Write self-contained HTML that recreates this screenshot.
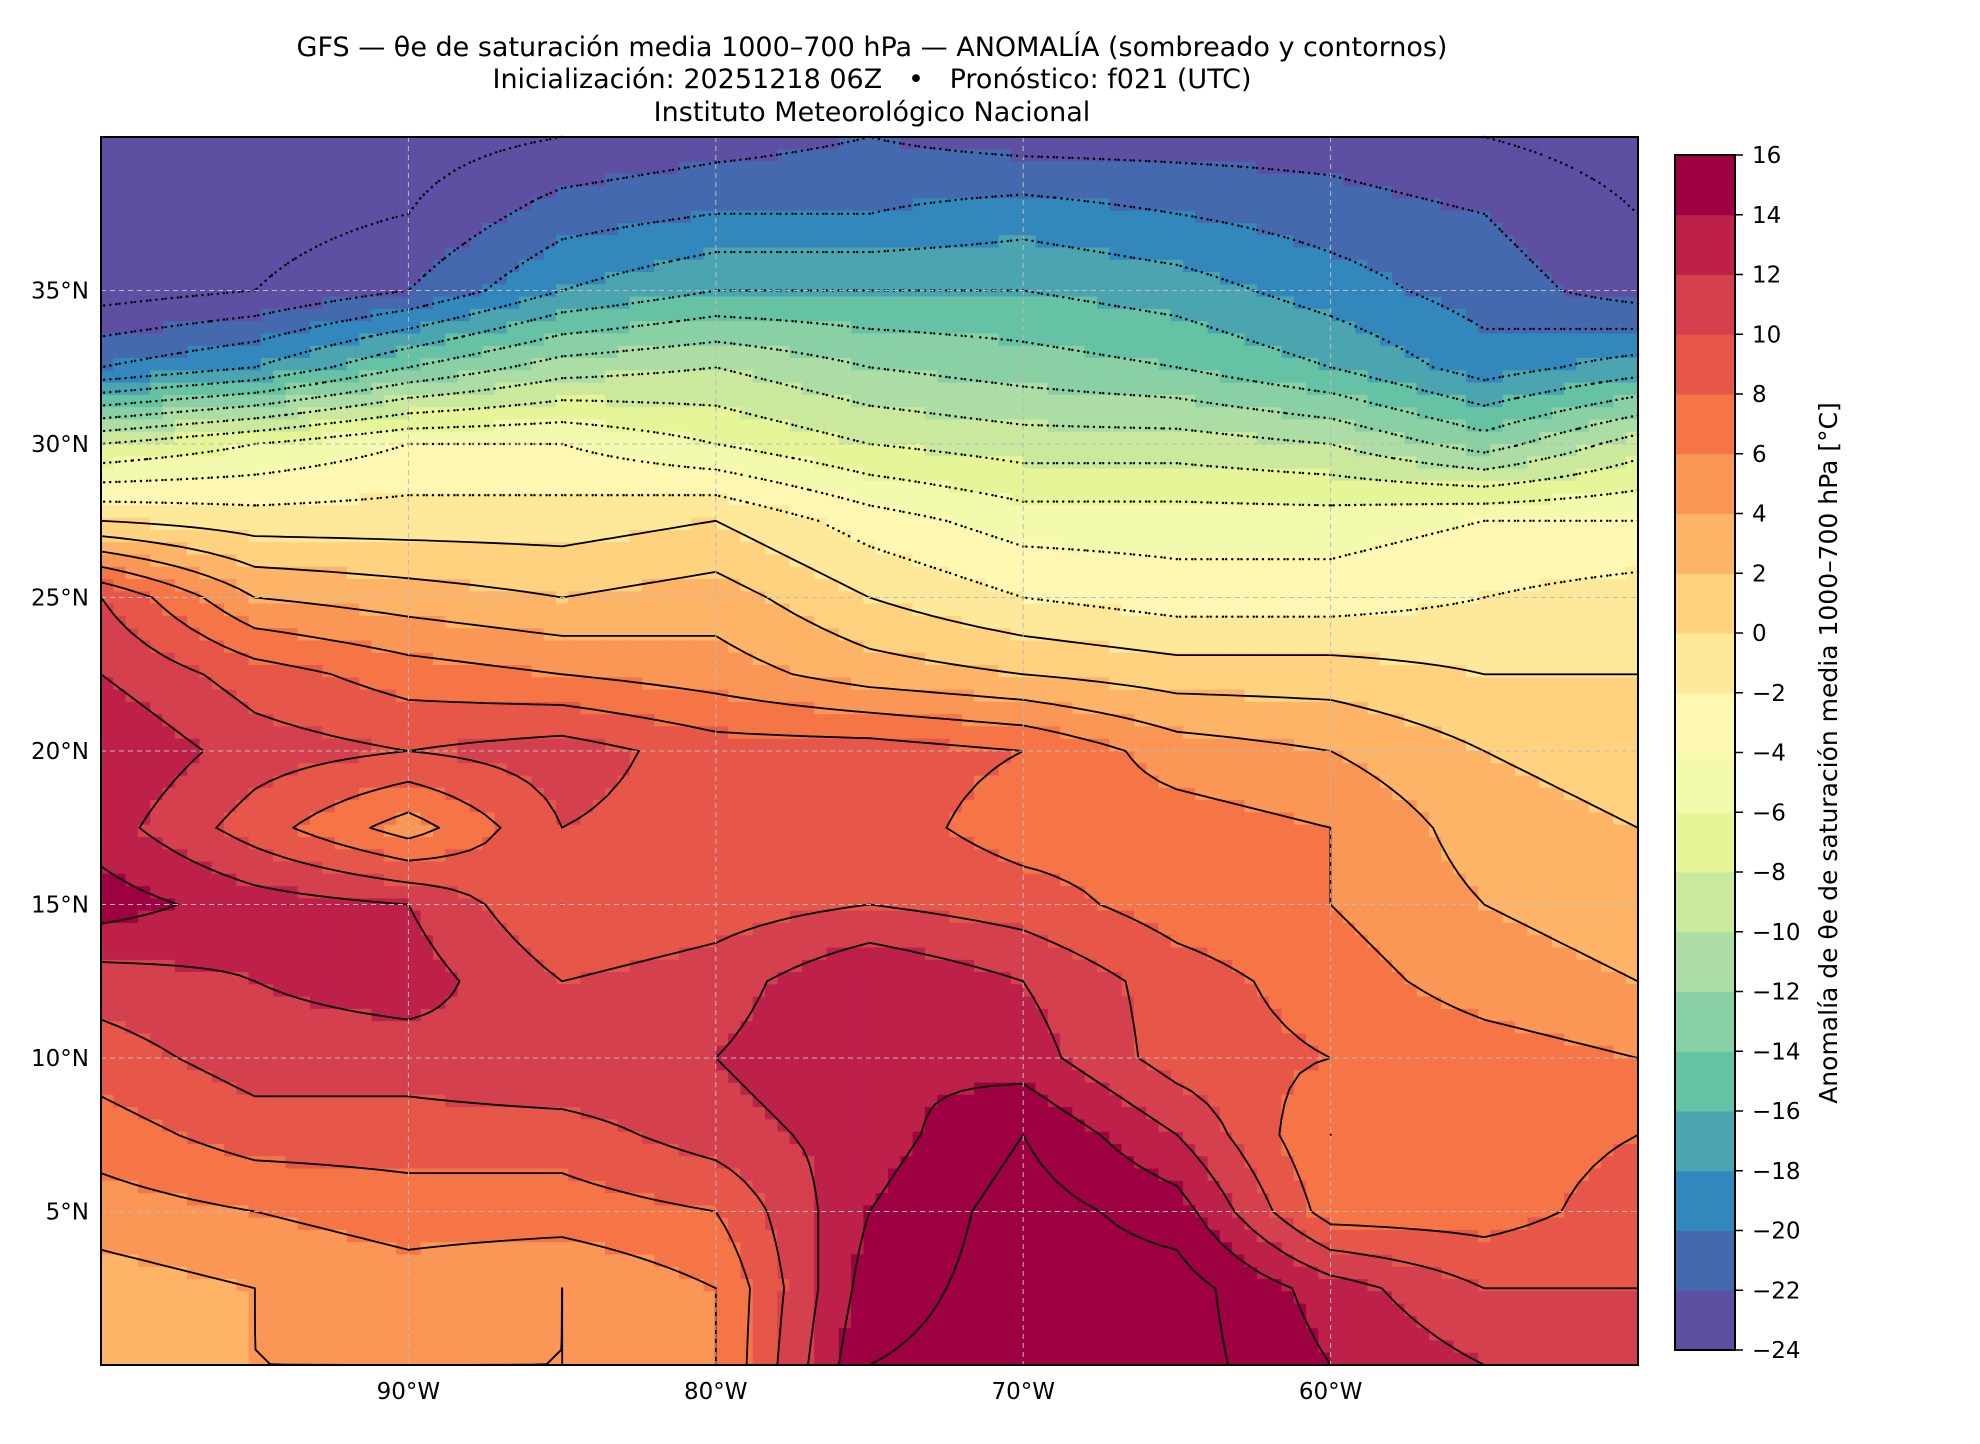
<!DOCTYPE html>
<html><head><meta charset="utf-8">
<style>
html,body{margin:0;padding:0;background:#fff;}
body{width:1980px;height:1440px;overflow:hidden;font-family:"DejaVu Sans","Liberation Sans",sans-serif;}
</style></head>
<body>
<svg id="fig" width="1980" height="1440" viewBox="0 0 1980 1440" xmlns="http://www.w3.org/2000/svg" font-family="DejaVu Sans, Liberation Sans, sans-serif">
  <g text-anchor="middle" font-size="27" fill="#000">
    <text x="872" y="56">GFS — θe de saturación media 1000–700 hPa — ANOMALÍA (sombreado y contornos)</text>
    <text x="872" y="88" xml:space="preserve">Inicialización: 20251218 06Z   •   Pronóstico: f021 (UTC)</text>
    <text x="872" y="121">Instituto Meteorológico Nacional</text>
  </g>
  <g id="field"></g>
  <g id="contours"></g>
  <g id="grid"></g>
  <rect x="101" y="137" width="1537" height="1228" fill="none" stroke="#000" stroke-width="2"/>
  <g id="xticks"></g>
  <g id="yticks"></g>
  <g id="cbar"></g>
  <text transform="translate(1837,753) rotate(-90)" text-anchor="middle" font-size="25">Anomalía de θe de saturación media 1000–700 hPa [°C]</text>
</svg>
<script>
// ---- data ----
const lonValues = [-100,-95,-90,-85,-80,-75,-70,-65,-60,-55,-50];
const latValues = [40,37.5,35,32.5,30,27.5,25,22.5,20,17.5,15,12.5,10,7.5,5,2.5,0];
const row40   = [-25,-25,-25,-24,-23,-22,-23,-23,-23,-24,-25];
const row37_5 = [-25,-25,-24,-21,-20,-20,-19,-20,-21,-22,-24];
const row35   = [-25,-24,-22,-18,-16,-16,-16,-17,-19,-21,-23];
const row32_5 = [-20,-18,-14,-11,-10,-12,-13,-14,-16,-19,-17];
const row30   = [-8,-6,-4,-4,-6,-8,-9,-9,-10,-13,-9];
const row27_5 = [0,-1,-1,-1,0,-3,-5,-5,-5,-4,-4];
const row25   = [10,4,3,2,3,0,-2,-3,-3,-2,-1];
const row22_5 = [12,9,7,6,5,3,2,1,1,0,0];
const row20   = [14,11,10,11,9,9,8,5,4,2,1];
const row17_5 = [13,9,5,10,9,9,7,7,6,3,2];
const row15   = [15,13,12,8,9,10,9,7,6,4,3];
const row12_5 = [11,12,13,10,11,14,12,9,7,5,4];
const row10   = [9,11,11,12,12,14,13,9,8,7,6];
const row7_5  = [7,9,9,9,11,13,16,12,6,7,8];
const row5    = [5,6,7,7,8,14,17,15,7,7,9];
const row2_5  = [3,4,5,4,6,15,17,17,13,10,10];
const row0    = [2,4,4,4,6,16,17,17,14,12,12];
const gridRows = [row40,row37_5,row35,row32_5,row30,row27_5,row25,row22_5,row20,row17_5,row15,row12_5,row10,row7_5,row5,row2_5,row0];
const levelTicks = [16,14,12,10,8,6,4,2,0,-2,-4,-6,-8,-10,-12,-14,-16,-18,-20,-22,-24];
const levelColors = ["#5e4fa2","#4469ae","#3288bd","#4ba5b1","#66c2a5","#89d0a5","#abdda4","#cbe99d","#e6f598","#f4faad","#fff7b2","#fee899","#fed27f","#fdb466","#fa9656","#f57547","#e65749","#d5404e","#bd214a","#9e0142"];
const xTickLons = [-90,-80,-70,-60];
const xTickLabels = ["90°W","80°W","70°W","60°W"];
const yTickLats = [35,30,25,20,15,10,5];
const yTickLabels = ["35°N","30°N","25°N","20°N","15°N","10°N","5°N"];

// ---- axes ----
const PL=101, PR=1638, PT=137, PB=1365;
const lonMin=-100, lonMax=-50, latMin=0, latMax=40;
const xScale = lon => PL + (lon-lonMin)/(lonMax-lonMin)*(PR-PL);
const yScale = lat => PB - (lat-latMin)/(latMax-latMin)*(PB-PT);
const CT=155, CB=1350, vMin=-24, vMax=16;
const cScale = v => CB - (v-vMin)/(vMax-vMin)*(CB-CT);
const NS="http://www.w3.org/2000/svg";
function mk(tag, attrs, parent){const e=document.createElementNS(NS,tag);for(const k in attrs)e.setAttribute(k,attrs[k]);parent.appendChild(e);return e;}
function colorFor(v){let i=Math.floor((v-vMin)/2);if(i<0)i=0;if(i>19)i=19;return levelColors[i];}
function sample(lon,lat){
  const fx=(lon-lonValues[0])/5, fy=(latValues[0]-lat)/2.5;
  let i=Math.min(Math.max(Math.floor(fx),0),lonValues.length-2);
  let j=Math.min(Math.max(Math.floor(fy),0),latValues.length-2);
  const tx=fx-i, ty=fy-j;
  const a=gridRows[j][i],b=gridRows[j][i+1],c=gridRows[j+1][i],d=gridRows[j+1][i+1];
  return (a*(1-tx)+b*tx)*(1-ty)+(c*(1-tx)+d*tx)*ty;
}
// field cells
const field=document.getElementById('field');
const step=0.4;
for(let lat=latMax; lat>latMin+1e-6; lat-=step){
  for(let lon=lonMin; lon<lonMax-1e-6; lon+=step){
    const v=sample(lon+step/2, lat-step/2);
    const x0=xScale(lon), x1=xScale(Math.min(lon+step,lonMax));
    const y0=yScale(lat), y1=yScale(Math.max(lat-step,latMin));
    const r=mk('rect',{x:x0.toFixed(1),y:y0.toFixed(1),width:(x1-x0+0.6).toFixed(1),height:(y1-y0+0.6).toFixed(1),fill:colorFor(v)},field);
    
    
  }
}
// contours (marching squares on sampled field)
const cg=document.getElementById('contours');
const cs=0.5;
const nx=Math.round((lonMax-lonMin)/cs), ny=Math.round((latMax-latMin)/cs);
const S=[];
for(let j=0;j<=ny;j++){S.push([]);for(let i=0;i<=nx;i++){S[j].push(sample(lonMin+i*cs, latMax-j*cs));}}
for(let L0=-24; L0<=16; L0+=2){
  const L=L0+0.001;
  let d='';
  for(let j=0;j<ny;j++)for(let i=0;i<nx;i++){
    const a=S[j][i],b=S[j][i+1],c=S[j+1][i+1],e=S[j+1][i];
    const pts=[];
    const lon0=lonMin+i*cs, lat0=latMax-j*cs;
    function cross(v1,v2,p1,p2){ if((v1<L)!==(v2<L)){const t=(L-v1)/(v2-v1);pts.push([p1[0]+(p2[0]-p1[0])*t,p1[1]+(p2[1]-p1[1])*t]);} }
    cross(a,b,[lon0,lat0],[lon0+cs,lat0]);
    cross(b,c,[lon0+cs,lat0],[lon0+cs,lat0-cs]);
    cross(c,e,[lon0+cs,lat0-cs],[lon0,lat0-cs]);
    cross(e,a,[lon0,lat0-cs],[lon0,lat0]);
    for(let k=0;k+1<pts.length;k+=2){
      d+='M'+xScale(pts[k][0]).toFixed(1)+' '+yScale(pts[k][1]).toFixed(1)+'L'+xScale(pts[k+1][0]).toFixed(1)+' '+yScale(pts[k+1][1]).toFixed(1);
    }
  }
  if(!d) continue;
  const p=mk('path',{d:d,fill:'none',stroke:'#000','stroke-width':L0<0?2.4:1.8,'stroke-linecap':'round'},cg);
  if(L0<0){p.setAttribute('stroke-dasharray','0.1,6');}
  
  
}
// gridlines
const grid=document.getElementById('grid');
xTickLons.forEach(lon=>{const l=mk('line',{x1:xScale(lon),x2:xScale(lon),y1:PT,y2:PB,stroke:'#bbb','stroke-width':1,'stroke-dasharray':'5,4'},grid);
  
  });
yTickLats.forEach(lat=>{const l=mk('line',{x1:PL,x2:PR,y1:yScale(lat),y2:yScale(lat),stroke:'#bbb','stroke-width':1,'stroke-dasharray':'5,4'},grid);
  
  });
// tick labels
const xt=document.getElementById('xticks');
xTickLons.forEach((lon,k)=>{const t=mk('text',{x:xScale(lon),y:1399,'text-anchor':'middle','font-size':23},xt);t.textContent=xTickLabels[k];
  
  });
const yt=document.getElementById('yticks');
yTickLats.forEach((lat,k)=>{const t=mk('text',{x:89,y:yScale(lat)+8,'text-anchor':'end','font-size':23},yt);t.textContent=yTickLabels[k];
  
  });
// colorbar
const cb=document.getElementById('cbar');
levelColors.forEach((c,i)=>{const lo=vMin+2*i;const r=mk('rect',{x:1675,y:cScale(lo+2),width:60,height:cScale(lo)-cScale(lo+2)+0.5,fill:c},cb);
  
  });
const fr=mk('rect',{x:1675,y:CT,width:60,height:CB-CT,fill:'none',stroke:'#000','stroke-width':2},cb);


levelTicks.forEach(v=>{
  const y=cScale(v);
  const tk=mk('line',{x1:1735,x2:1743,y1:y,y2:y,stroke:'#000','stroke-width':1.5},cb);
  
  
  const t=mk('text',{x:1752,y:y+8,'font-size':23},cb);
  t.textContent=(v<0?'\u2212'+(-v):String(v));
  
  
});
</script>
</body></html>
